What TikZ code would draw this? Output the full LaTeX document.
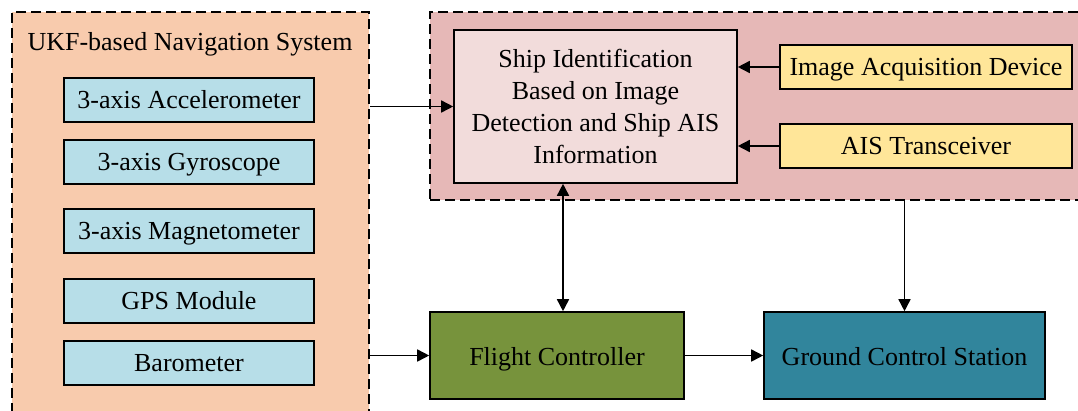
\documentclass[tikz,border=0pt]{standalone}
\usepackage{fontspec}
\setmainfont{Liberation Serif}
\usetikzlibrary{arrows.meta}
\definecolor{navfill}{HTML}{F8CBAD}
\definecolor{detfill}{HTML}{E6B8B7}
\definecolor{shipfill}{HTML}{F2DCDB}
\definecolor{sensfill}{HTML}{B7DEE8}
\definecolor{devfill}{HTML}{FFE699}
\definecolor{fcfill}{HTML}{77933C}
\definecolor{gcsfill}{HTML}{31859C}
\begin{document}
\begin{tikzpicture}[x=1pt,y=-1pt,
  every node/.style={font=\fontsize{26}{32}\selectfont, inner sep=0pt},
  group/.style={draw, line width=1.5pt, dash pattern=on 10pt off 5pt},
  block/.style={draw, line width=1.6pt, align=center},
  oneline/.style={block, text height=22pt, text depth=6pt},
  sensor/.style={oneline, fill=sensfill, minimum width=250pt, minimum height=44pt},
  device/.style={oneline, fill=devfill, minimum width=292pt, minimum height=44pt},
  unit/.style={block, text height=24pt, text depth=5pt, minimum height=87pt},
  arr/.style={line width=1.6pt, -{Triangle[length=12pt,width=12pt]}},
  arrboth/.style={line width=1.6pt, {Triangle[length=12pt,width=12pt]}-{Triangle[length=12pt,width=12pt]}}]
\useasboundingbox (0,0) rectangle (1078,410);
\clip (0,0) rectangle (1078,410);

% group containers (both run past the picture edge)
\node[group, fill=navfill, minimum width=357pt, minimum height=440pt] (nav) at (190.5,232) {};
\node[group, fill=detfill, minimum width=680pt, minimum height=188pt] (det) at (770,106) {};
\node[anchor=base] (navtitle) at (190,50) {UKF-based Navigation System};

% sensors
\node[sensor] (acc) at (189,100) {3-axis Accelerometer};
\node[sensor] (gyr) at (189,162) {3-axis Gyroscope};
\node[sensor] (mag) at (189,231) {3-axis Magnetometer};
\node[sensor] (gps) at (189,301) {GPS Module};
\node[sensor] (bar) at (189,363) {Barometer};

% identification subsystem
\node[block, fill=shipfill, minimum width=283pt, minimum height=153pt] (ship) at (595.5,106.5)
  {Ship Identification\\Based on Image\\Detection and Ship AIS\\Information};
\node[device] (iad) at (926,67) {Image Acquisition Device};
\node[device] (ais) at (926,146) {AIS Transceiver};

% control blocks
\node[unit, fill=fcfill, minimum width=254pt] (fc) at (557,355.5) {Flight Controller};
\node[unit, fill=gcsfill, minimum width=281pt] (gcs) at (904.5,355.5) {Ground Control Station};

% connections
\draw[arr] (nav.east |- ship.west) -- (ship.west);
\draw[arr] (nav.east |- fc.west) -- (fc.west);
\draw[arr] (iad.west) -- (iad.west -| ship.east);
\draw[arr] (ais.west) -- (ais.west -| ship.east);
\draw[arrboth] ([xshift=6pt]fc.north |- ship.south) -- ([xshift=6pt]fc.north);
\draw[arr] (gcs.north |- det.south) -- (gcs.north);
\draw[arr] (fc.east) -- (gcs.west);
\end{tikzpicture}
\end{document}
